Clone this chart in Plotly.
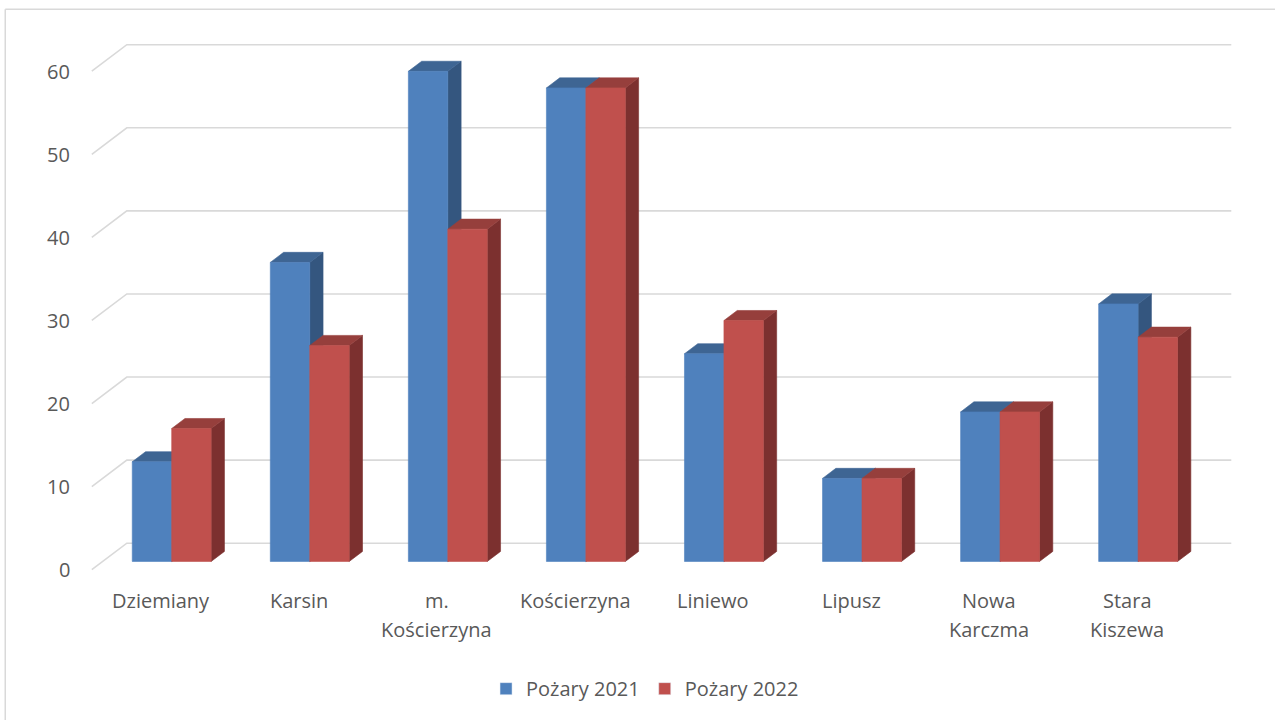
import plotly.graph_objects as go

categories = ["Dziemiany", "Karsin", "m. Kościerzyna", "Kościerzyna", "Liniewo",
              "Lipusz", "Nowa Karczma", "Stara Kiszewa"]
category_lines = [["Dziemiany"], ["Karsin"], ["m.", "Kościerzyna"], ["Kościerzyna"],
                  ["Liniewo"], ["Lipusz"], ["Nowa", "Karczma"], ["Stara", "Kiszewa"]]
series_names = ["Pożary 2021", "Pożary 2022"]
pozary_2021 = [12, 36, 59, 57, 25, 10, 18, 31]
pozary_2022 = [16, 26, 40, 57, 29, 10, 18, 27]
y_ticks = [0, 10, 20, 30, 40, 50, 60]

# styling / geometry
FRONT = ["#4f81bd", "#c0504d"]
TOP = ["#3e6593", "#963f3c"]
SIDE = ["#34567f", "#7c302f"]
GRID = "#d9d9d9"
TXT = "#595959"
FONT = "Open Sans"
OX, OY = 0.2536, 3.19      # depth offset (category units, value units)
D1, D2 = 0.31, 0.69        # bar depth front/back
BW = 0.2857                # bar width in category units
N = len(categories)

# pixel layout
KX, KY = 138.0, 8.31
X_RANGE = [-0.1, N + OX + 0.15]
Y_RANGE = [-1.0, 64.0]
X0PX, Y0PX = 92.0, 570.0
ML = X0PX + X_RANGE[0] * KX
MR = 1275 - (X0PX + X_RANGE[1] * KX)
MB = 720 - (Y0PX - Y_RANGE[0] * KY)
MT = Y0PX - Y_RANGE[1] * KY
PW = 1275 - ML - MR
PH = 720 - MT - MB

def px_to_paper_x(px):
    return (px - ML) / PW

def px_to_paper_y(py):
    return (720 - MB - py) / PH

fig = go.Figure()

# gridlines: left side wall diagonal + back wall horizontal
for v in y_ticks:
    fig.add_trace(go.Scatter(
        x=[0, OX, N + OX], y=[v, v + OY, v + OY], mode="lines",
        line=dict(color=GRID, width=1.6), hoverinfo="skip", showlegend=False))

# bars
for i in range(N):
    for s, vals in enumerate([pozary_2021, pozary_2022]):
        v = vals[i]
        xa = i + 0.5 - BW + s * BW
        xb = xa + BW
        fx0, fx1 = xa + D1 * OX, xb + D1 * OX
        bx0, bx1 = xa + D2 * OX, xb + D2 * OX
        fy, by = D1 * OY, D2 * OY
        faces = [
            ([fx1, bx1, bx1, fx1, fx1], [fy, by, v + by, v + fy, fy], SIDE[s]),
            ([fx0, fx1, bx1, bx0, fx0], [v + fy, v + fy, v + by, v + by, v + fy], TOP[s]),
            ([fx0, fx1, fx1, fx0, fx0], [fy, fy, v + fy, v + fy, fy], FRONT[s]),
        ]
        for xs, ys, col in faces:
            fig.add_trace(go.Scatter(
                x=xs, y=ys, mode="lines", fill="toself", fillcolor=col,
                line=dict(color=col, width=0.6), hoverinfo="skip", showlegend=False))

# legend entries
for s in range(2):
    fig.add_trace(go.Bar(x=[None], y=[None], name=series_names[s],
                         marker=dict(color=FRONT[s]), showlegend=True))

annotations = []
# y tick labels
for v in y_ticks:
    annotations.append(dict(x=0, y=v, xref="x", yref="y", text=str(v), showarrow=False,
                            xanchor="right", yanchor="middle", xshift=-20,
                            font=dict(family=FONT, size=20, color=TXT)))
# category labels
for i, lines in enumerate(category_lines):
    for j, line in enumerate(lines):
        annotations.append(dict(x=i + 0.5, y=0, xref="x", yref="y", text=line,
                                showarrow=False, xanchor="center", yanchor="middle",
                                yshift=-(31 + 29 * j),
                                font=dict(family=FONT, size=20, color=TXT)))

# chart border
shapes = [
    dict(type="line", xref="paper", yref="paper",
         x0=px_to_paper_x(5.5), x1=px_to_paper_x(1280), y0=px_to_paper_y(9.5), y1=px_to_paper_y(9.5),
         line=dict(color="#d9d9d9", width=1.5)),
    dict(type="line", xref="paper", yref="paper",
         x0=px_to_paper_x(5.5), x1=px_to_paper_x(5.5), y0=px_to_paper_y(9.5), y1=px_to_paper_y(725),
         line=dict(color="#d9d9d9", width=1.5)),
]

fig.update_layout(
    width=1275, height=720,
    margin=dict(l=ML, r=MR, t=MT, b=MB, pad=0),
    paper_bgcolor="white", plot_bgcolor="white",
    xaxis=dict(range=X_RANGE, visible=False, fixedrange=True),
    yaxis=dict(range=Y_RANGE, visible=False, fixedrange=True),
    showlegend=True,
    legend=dict(orientation="h", x=px_to_paper_x(645), xanchor="center",
                y=px_to_paper_y(689), yanchor="middle",
                font=dict(family=FONT, size=20, color=TXT),
                itemwidth=30, tracegroupgap=0, bgcolor="rgba(0,0,0,0)"),
    annotations=annotations,
    shapes=shapes,
    barmode="overlay",
    font=dict(family=FONT, color=TXT),
)

fig.write_html("out.html", config={"displayModeBar": False},
               post_script="document.body.style.margin='0';")
